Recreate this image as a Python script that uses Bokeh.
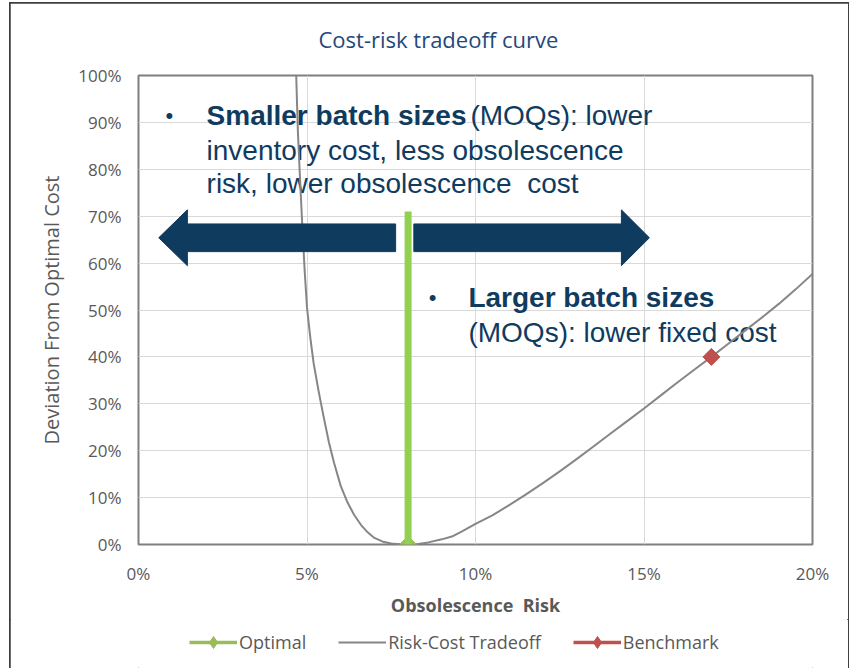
import math
from bokeh.plotting import figure
from bokeh.layouts import column
from bokeh.models import Range1d, NumeralTickFormatter, FixedTicker, Legend, LegendItem
from bokeh.core.properties import value
from bokeh.embed import file_html
from bokeh.resources import INLINE

# ---- data (fractions: 0.05 = 5%) ----
curve_risk = [0.0468, 0.0470, 0.0473, 0.0478, 0.0482, 0.0486, 0.0493, 0.0500, 0.0510,
              0.0520, 0.0535, 0.0550, 0.0565, 0.0580, 0.0600, 0.0620, 0.0640, 0.0660,
              0.0680, 0.0700, 0.0725, 0.0750, 0.0775, 0.0800, 0.0830, 0.0860, 0.0900,
              0.0930, 0.0960, 0.1000, 0.1050, 0.1100, 0.1150, 0.1200, 0.1250, 0.1300,
              0.1350, 0.1400, 0.1450, 0.1500, 0.1550, 0.1600, 0.1650, 0.1700, 0.1750,
              0.1800, 0.1850, 0.1900, 0.1950, 0.2000]
curve_dev = [1.000, 0.950, 0.880, 0.800, 0.740, 0.680, 0.585, 0.505, 0.440,
             0.385, 0.325, 0.270, 0.218, 0.175, 0.125, 0.090, 0.063, 0.042,
             0.026, 0.014, 0.006, 0.002, 0.0003, 0.000, 0.001, 0.0045, 0.011,
             0.017, 0.028, 0.044, 0.062, 0.084, 0.107, 0.131, 0.156, 0.182,
             0.209, 0.236, 0.263, 0.290, 0.318, 0.346, 0.373, 0.400, 0.428,
             0.456, 0.484, 0.513, 0.544, 0.577]
optimal_risk = [0.08]
optimal_dev = [0.0]
benchmark_risk = [0.17]
benchmark_dev = [0.40]

x_ticks = [0.0, 0.05, 0.10, 0.15, 0.20]
y_ticks = [0.0, 0.1, 0.2, 0.3, 0.4, 0.5, 0.6, 0.7, 0.8, 0.9, 1.0]

title_text = "Cost-risk tradeoff curve"
x_label = "Obsolescence\u00a0\u00a0Risk"
y_label = "Deviation From Optimal Cost"
legend_labels = ["Optimal", "Risk-Cost Tradeoff", "Benchmark"]

# annotation: highlighted optimum bar and arrows
optimal_bar_top = [0.71]
arrow_center = 0.654
arrow_shaft_half = 0.0295
arrow_head_half = 0.0595
left_arrow_x = [0.0060, 0.0145, 0.0763]    # tip, head base, shaft end
right_arrow_x = [0.1516, 0.1433, 0.0817]   # tip, head base, shaft start

bullet_x = [0.0080, 0.0861]
bullet_y = [0.915, 0.527]
bold_text = ["Smaller batch sizes", "Larger batch sizes"]
bold_x = [0.0202, 0.0979]
bold_y = [0.915, 0.527]
normal_text = ["(MOQs): lower", "inventory cost, less obsolescence",
               "risk, lower obsolescence\u00a0 cost", "(MOQs): lower fixed cost"]
normal_x = [0.0985, 0.0202, 0.0202, 0.0979]
normal_y = [0.915, 0.840, 0.770, 0.453]

NAVY = "#0F3B5F"
GRAY_TXT = "#595959"
OPT_C, BM_C, CURVE_C = "#9BBB59", "#C0504D", "#868686"

TOTAL_W, TOTAL_H = 838, 662
TOP_B, BOTTOM_B = 72, 72
FRAME_W, FRAME_H = 674, 469

p = figure(frame_width=FRAME_W, frame_height=FRAME_H,
           min_border_left=128, min_border_right=36, min_border_top=TOP_B, min_border_bottom=BOTTOM_B,
           x_range=Range1d(0, 0.2), y_range=Range1d(0, 1),
           output_backend="svg", toolbar_location=None,
           background_fill_color="white", border_fill_color="white")

p.title.text = title_text
p.title.align = "left"
p.title.offset = 180
p.title.vertical_align = "top"
p.title.standoff = 39
p.title.text_font = "Open Sans"
p.title.text_font_size = "22px"
p.title.text_font_style = "normal"
p.title.text_color = "#1F497D"

p.outline_line_color = "#7F7F7F"
p.outline_line_width = 2

for ax in (p.xaxis[0], p.yaxis[0]):
    ax.axis_line_color = None
    ax.major_tick_line_color = None
    ax.minor_tick_line_color = None
    ax.major_tick_out = 0
    ax.major_tick_in = 0
    ax.major_label_text_font = "Open Sans"
    ax.major_label_text_font_size = "17px"
    ax.major_label_text_color = GRAY_TXT
    ax.axis_label_text_font = "Open Sans"
    ax.axis_label_text_color = GRAY_TXT
    ax.formatter = NumeralTickFormatter(format="0%")

p.xaxis.ticker = FixedTicker(ticks=x_ticks)
p.yaxis.ticker = FixedTicker(ticks=y_ticks)
p.xaxis.axis_label = x_label
p.xaxis.axis_label_text_font_style = "bold"
p.xaxis.axis_label_text_font_size = "18px"
p.xaxis.major_label_standoff = 17
p.xaxis.axis_label_standoff = 5
p.yaxis.axis_label = y_label
p.yaxis.axis_label_text_font_style = "normal"
p.yaxis.axis_label_text_font_size = "20px"
p.yaxis.major_label_standoff = 17
p.yaxis.axis_label_standoff = 10

p.xgrid.ticker = FixedTicker(ticks=x_ticks)
p.ygrid.ticker = FixedTicker(ticks=y_ticks)
p.grid.grid_line_color = "#D9D9D9"
p.grid.grid_line_width = 1

# text annotations
p.text(x=bullet_x, y=bullet_y, text=["\u2022"] * len(bullet_x),
       text_font=value("Liberation Sans"), text_font_size="22px",
       text_color=NAVY, text_baseline="middle", text_align="left")
p.text(x=bold_x, y=bold_y, text=bold_text,
       text_font=value("Liberation Sans"), text_font_size="28px", text_font_style="bold",
       text_color=NAVY, text_baseline="middle", text_align="left")
p.text(x=normal_x, y=normal_y, text=normal_text,
       text_font=value("Liberation Sans"), text_font_size="28px",
       text_color=NAVY, text_baseline="middle", text_align="left")

# curve
p.line(curve_risk, curve_dev, line_color=CURVE_C, line_width=2, line_join="round")

# arrows
c, sh, hh = arrow_center, arrow_shaft_half, arrow_head_half
def arrow(xs):
    tip, base, end = xs
    return ([tip, base, base, end, end, base, base],
            [c, c + hh, c + sh, c + sh, c - sh, c - sh, c - hh])
lx, ly = arrow(left_arrow_x)
rx, ry = arrow(right_arrow_x)
p.patches(xs=[lx, rx], ys=[ly, ry], fill_color=NAVY, line_color=NAVY, line_width=1)

# series markers
p.scatter(optimal_risk, optimal_dev, marker="square", angle=math.pi / 4, size=12,
          fill_color=OPT_C, line_color=OPT_C)
p.segment(x0=optimal_risk, y0=optimal_dev, x1=optimal_risk, y1=optimal_bar_top,
          line_color="#92D050", line_width=7, line_cap="butt")
p.scatter(benchmark_risk, benchmark_dev, marker="square", angle=math.pi / 4, size=12,
          fill_color=BM_C, line_color=BM_C)

# ---- legend strip below the chart (separate figure so nothing gets clipped) ----
p_height = TOP_B + FRAME_H + BOTTOM_B
lf = figure(width=TOTAL_W, height=TOTAL_H - p_height,
            x_range=Range1d(1, 2), y_range=Range1d(1, 2),
            x_axis_type=None, y_axis_type=None,
            min_border=0, output_backend="svg", toolbar_location=None,
            background_fill_color="white", border_fill_color="white")
lf.outline_line_color = None
lf.grid.visible = False

opt_line = lf.line(optimal_risk, optimal_dev, line_color=OPT_C, line_width=3.5)
opt_mk = lf.scatter(optimal_risk, optimal_dev, marker="diamond", size=12,
                    fill_color=OPT_C, line_color=OPT_C)
cur_line = lf.line(curve_risk, curve_dev, line_color=CURVE_C, line_width=2)
bm_line = lf.line(benchmark_risk, benchmark_dev, line_color=BM_C, line_width=3.5)
bm_mk = lf.scatter(benchmark_risk, benchmark_dev, marker="diamond", size=12,
                   fill_color=BM_C, line_color=BM_C)

legend = Legend(items=[LegendItem(label=legend_labels[0], renderers=[opt_line, opt_mk]),
                       LegendItem(label=legend_labels[1], renderers=[cur_line]),
                       LegendItem(label=legend_labels[2], renderers=[bm_line, bm_mk])],
                orientation="horizontal", location=(51, 11),
                border_line_color=None, background_fill_alpha=0,
                label_text_font="Open Sans", label_text_font_size="18px",
                label_text_color=GRAY_TXT, glyph_width=48, glyph_height=30,
                label_standoff=2, spacing=32, padding=2, margin=0)
lf.add_layout(legend, "center")

layout = column(p, lf, spacing=0)
layout.styles = {"margin": "3px 0px 0px 10px", "outline": "2px solid #3f3f3f",
                 "outline-offset": "-1px"}

open("out.html", "w").write(file_html(layout, INLINE))
